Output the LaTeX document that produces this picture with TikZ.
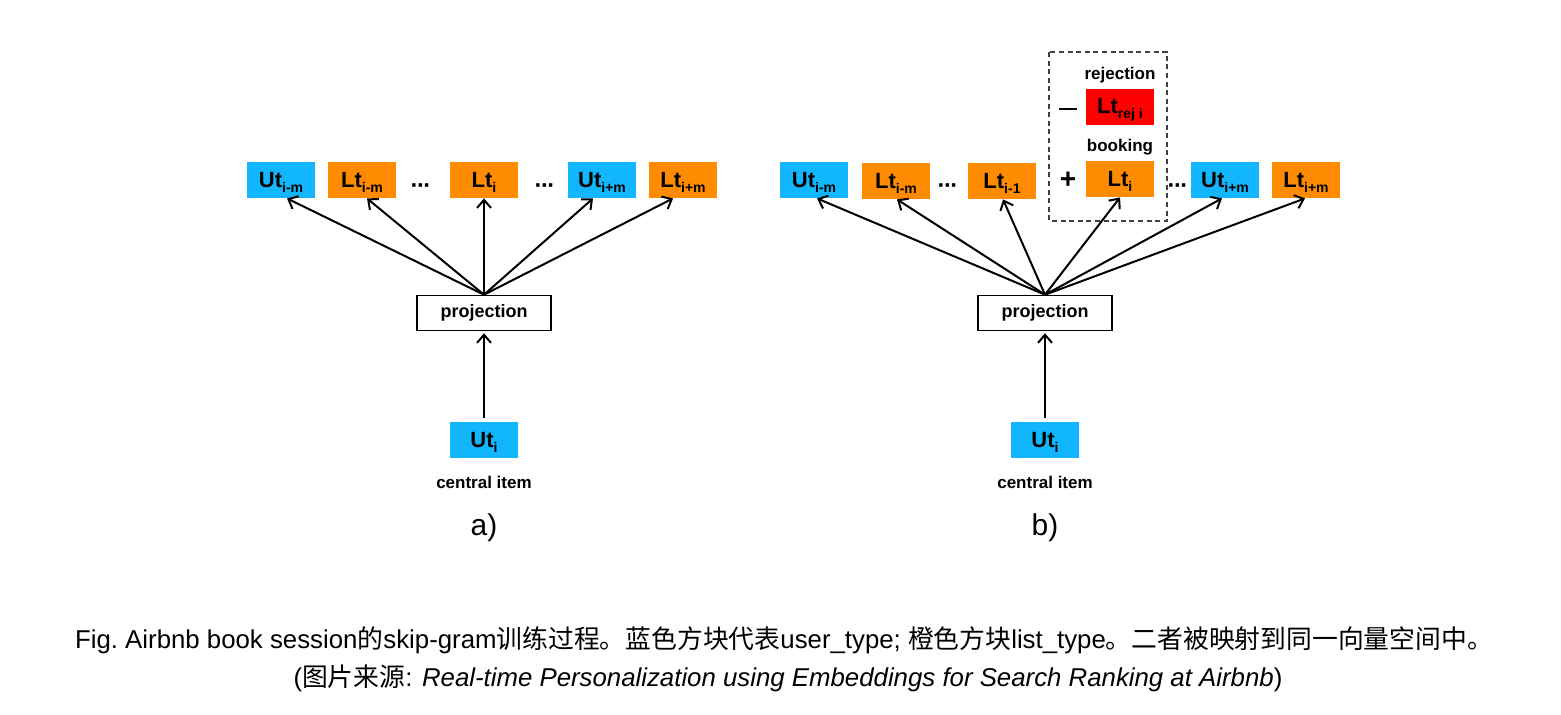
\documentclass[tikz,border=0pt]{standalone}
\usepackage{fontspec}
\setmainfont{Liberation Sans}
\newfontfamily\cjk{Noto Sans CJK SC}
\usetikzlibrary{arrows.meta}
\definecolor{ublue}{RGB}{18,182,252}
\definecolor{lorange}{RGB}{255,140,0}
\definecolor{rred}{RGB}{255,0,0}
\newcommand\subx[1]{\raisebox{-0.45ex}{\fontsize{7}{7}\selectfont #1}}
\newcommand\mdots{\textperiodcentered\kern-0.8pt\textperiodcentered\kern-0.8pt\textperiodcentered}
\begin{document}
\begin{tikzpicture}[x=0.5pt,y=-0.5pt,
  itembox/.style={minimum width=34pt,minimum height=18pt,inner sep=0pt,
    font=\bfseries\fontsize{11}{11}\selectfont,text depth=0.5pt},
  ubox/.style={itembox,fill=ublue},
  lbox/.style={itembox,fill=lorange},
  rbox/.style={itembox,fill=rred},
  projbox/.style={draw=black,line width=0.8pt,fill=white,minimum width=67pt,
    minimum height=17.5pt,inner sep=0pt,font=\bfseries\fontsize{9}{9}\selectfont},
  lab/.style={font=\bfseries\fontsize{8.5}{8.5}\selectfont,inner sep=0pt},
  dotsnode/.style={font=\bfseries\fontsize{12}{12}\selectfont,inner sep=0pt},
  sign/.style={font=\bfseries\fontsize{14}{14}\selectfont,inner sep=0pt},
  arr/.style={line width=1pt,-{Straight Barb[length=4pt,width=7pt,line width=1pt]}},
  panel/.style={font=\fontsize{15}{15}\selectfont,inner sep=0pt},
  captext/.style={font=\fontsize{12.9}{15}\selectfont,inner sep=0pt}
]
\useasboundingbox (0,0) rectangle (1561,714);

% ---------- panel a ----------
\node[ubox] (a1) at (281,180) {Ut\subx{i-m}};
\node[lbox] (a2) at (362,180) {Lt\subx{i-m}};
\node[dotsnode] (ad1) at (421,189) {\mdots};
\node[lbox] (a3) at (484,180) {Lt\subx{i}};
\node[dotsnode] (ad2) at (545,189) {\mdots};
\node[ubox] (a4) at (602,180) {Ut\subx{i+m}};
\node[lbox] (a5) at (683,180) {Lt\subx{i+m}};
\node[projbox] (pa) at (484,313) {projection};
\node[ubox] (ca) at (484,440) {Ut\subx{i}};
\node[lab] (cla) at (484,482) {central item};
\node[panel] (pla) at (484,528) {a)};

\draw[arr] (pa.north) -- ([xshift=3pt]a1.south);
\draw[arr] (pa.north) -- ([xshift=2.5pt]a2.south);
\draw[arr] (pa.north) -- (a3.south);
\draw[arr] (pa.north) -- ([xshift=-4.5pt]a4.south);
\draw[arr] (pa.north) -- ([xshift=-5pt]a5.south);
\draw[arr] ([yshift=2pt]ca.north) -- ([yshift=-1pt]pa.south);

% ---------- panel b ----------
\node[ubox] (b1) at (814,180) {Ut\subx{i-m}};
\node[lbox] (b2) at (896,181) {Lt\subx{i-m}};
\node[dotsnode] (bd1) at (948,189) {\mdots};
\node[lbox] (b3) at (1002,181) {Lt\subx{i-1}};
\node[lbox] (b4) at (1120,179) {Lt\subx{i}};
\node[rbox] (br) at (1120,106.5) {Lt\subx{rej i}};
\node[lab] (rejl) at (1120,75) {rejection};
\node[lab] (bookl) at (1120,147) {booking};
\node[sign] (minus) at (1068,111) {\rule[0.3ex]{9pt}{1.1pt}};
\node[sign] (plus) at (1068,180) {+};
\node[dotsnode] (bd2) at (1178,189) {\mdots};
\node[ubox] (b5) at (1225,180) {Ut\subx{i+m}};
\node[lbox] (b6) at (1306,180) {Lt\subx{i+m}};
\draw[line width=0.7pt,dash pattern=on 2.5pt off 1.8pt,draw=black!75]
  (1049,52) rectangle (1167,221);
\node[projbox] (pb) at (1045,313) {projection};
\node[ubox] (cb) at (1045,440) {Ut\subx{i}};
\node[lab] (clb) at (1045,482) {central item};
\node[panel] (plb) at (1045,528) {b)};

\draw[arr] (pb.north) -- ([xshift=1.5pt]b1.south);
\draw[arr] (pb.north) -- ([xshift=0.5pt]b2.south);
\draw[arr] (pb.north) -- ([xshift=0.5pt]b3.south);
\draw[arr] (pb.north) -- (b4.south);
\draw[arr] (pb.north) -- ([xshift=-1.5pt]b5.south);
\draw[arr] (pb.north) -- ([xshift=-0.5pt]b6.south);
\draw[arr] ([yshift=2pt]cb.north) -- ([yshift=-1pt]pb.south);

% ---------- caption ----------
\node[captext] (cap1) at (784,640) {Fig.\ Airbnb book session{\cjk 的}skip-gram{\cjk 训练过程。蓝色方块代表}user\_type; {\cjk 橙色方块}list\_type{\cjk 。二者被映射到同一向量空间中。}};
\node[captext] (cap2) at (788,678) {({\cjk 图片来源}: \textit{Real-time Personalization using Embeddings for Search Ranking at Airbnb})};
\end{tikzpicture}
\end{document}
